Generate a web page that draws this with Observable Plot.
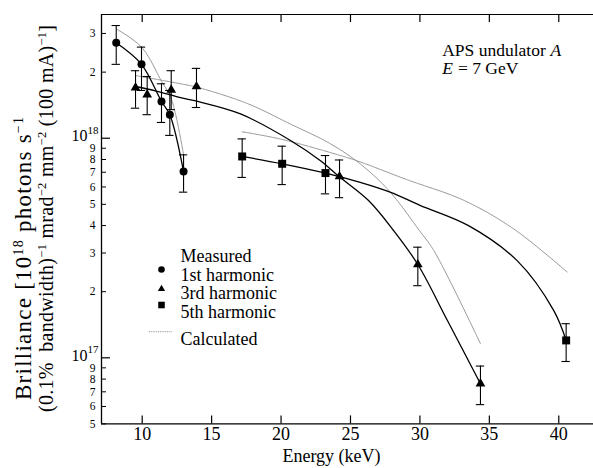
<!DOCTYPE html>
<html><head><meta charset="utf-8">
<script src="https://cdn.jsdelivr.net/npm/d3@7"></script>
<script src="https://cdn.jsdelivr.net/npm/@observablehq/plot@0.6"></script>
<style>
body{margin:0;background:#fff;}
#chart{width:593px;height:468px;}
#chart svg{font-family:"Liberation Serif","Times New Roman",serif;}
</style></head><body><div id="chart"></div>
<script>
// ---- data (energy in keV, brilliance in photons/s/0.1%bw/mrad^2/mm^2/100mA) ----
const h1Energy = [8.13, 9.95, 11.39, 11.99, 12.98];
const h1Value  = [2.72e18, 2.17e18, 1.47e18, 1.28e18, 7.05e17];
const h1Low    = [2.17e18, 1.65e18, 1.18e18, 1.03e18, 5.68e17];
const h1High   = [3.26e18, 2.60e18, 1.77e18, 1.65e18, 8.40e17];

const h3Energy = [9.52, 10.36, 12.09, 13.91, 24.21, 29.85, 34.36];
const h3Value  = [1.70e18, 1.58e18, 1.66e18, 1.72e18, 6.69e17, 2.66e17, 7.62e16];
const h3Low    = [1.37e18, 1.28e18, 1.35e18, 1.38e18, 5.36e17, 2.13e17, 6.12e16];
const h3High   = [2.03e18, 1.91e18, 2.03e18, 2.08e18, 7.96e17, 3.19e17, 9.17e16];

const h5Energy = [17.2, 20.08, 23.2, 40.53];
const h5Value  = [8.26e17, 7.65e17, 6.94e17, 1.20e17];
const h5Low    = [6.63e17, 6.15e17, 5.58e17, 9.62e16];
const h5High   = [9.93e17, 9.20e17, 8.34e17, 1.43e17];

const fit1Energy = [8.13, 9.95, 11.39, 11.99, 12.98];
const fit1Value  = [2.72e18, 2.17e18, 1.47e18, 1.28e18, 7.05e17];
const fit3Energy = [9.52, 11.0, 12.76, 14.0, 17.08, 20.68, 22.84, 24.2, 26.3, 28.1, 29.85, 32.0, 34.36];
const fit3Value  = [1.72e18, 1.64e18, 1.53e18, 1.47e18, 1.29e18, 9.77e17, 7.9e17, 6.67e17, 5.2e17, 3.8e17, 2.66e17, 1.47e17, 7.62e16];
const fit5Energy = [17.2, 20.08, 23.2, 25.7, 27.9, 30.0, 33.5, 37.0, 39.64, 40.53];
const fit5Value  = [8.26e17, 7.65e17, 6.94e17, 6.3e17, 5.67e17, 4.95e17, 4.0e17, 2.77e17, 1.64e17, 1.2e17];

const calc1Energy = [8.13, 9.95, 11.39, 12.1, 12.98];
const calc1Value  = [3.15e18, 2.6e18, 1.82e18, 1.51e18, 8.4e17];
const calc3Energy = [9.52, 12.76, 13.91, 17.56, 20.68, 23.56, 25.7, 27.76, 29.96, 31.0, 34.36];
const calc3Value  = [1.93e18, 1.77e18, 1.71e18, 1.44e18, 1.16e18, 9.43e17, 7.64e17, 5.78e17, 3.8e17, 3.08e17, 1.16e17];
const calc5Energy = [17.2, 20.0, 24.28, 25.7, 29.0, 33.2, 36.76, 40.6];
const calc5Value  = [1.07e18, 9.9e17, 8.34e17, 7.8e17, 6.5e17, 5.2e17, 3.86e17, 2.46e17];

const xTicks = [10, 15, 20, 25, 30, 35, 40];
const yMajor = [1e17, 1e18];
const yMajorExp = ["17", "18"];
const yMinor = [5e16, 6e16, 7e16, 8e16, 9e16, 2e17, 3e17, 4e17, 5e17, 6e17, 7e17, 8e17, 9e17, 2e18, 3e18];
const yMinorLabels = ["5","6","7","8","9","2","3","4","5","6","7","8","9","2","3"];

const legendTitle = "Measured";
const legendLabels = ["1st harmonic", "3rd harmonic", "5th harmonic"];
const legendSymbols = ["circle", "triangle", "square"];
const legendCalc = "Calculated";

// ---- layout ----
const W = 593, H = 468;
const mL = 101, mT = 14, mB = 44.6, mR = 0;
const plotW = W - mL - mR, plotH = H - mT - mB;
const xDomain = [7.07, 42.5];
const yDomain = [5e16, 3.66e18];
const FONT = '"Liberation Serif","Times New Roman",serif';

const rows = (x, y, lo, hi) => x.map((e, i) => ({x: e, y: y[i], lo: lo ? lo[i] : null, hi: hi ? hi[i] : null}));
const h1 = rows(h1Energy, h1Value, h1Low, h1High);
const h3 = rows(h3Energy, h3Value, h3Low, h3High);
const h5 = rows(h5Energy, h5Value, h5Low, h5High);
const measured = [...h1, ...h3, ...h5];
const capHalf = 0.3;

const calcStyle = {x: "x", y: "y", stroke: "#8a8a8a", strokeWidth: 0.9, strokeDasharray: "1.6,0.8", curve: "catmull-rom"};
const fitStyle = {x: "x", y: "y", stroke: "#000", strokeWidth: 1.3, curve: "catmull-rom"};
const F = 18;
const legendRowsDy = [253.5, 272.2, 291];
const legendSymDy = [255, 274.5, 290.5];
const legendSymR = [3.3, 2.7, 3.7];

const txt = (s, o) => Plot.text([s], {frameAnchor: "top-left", text: d => d, textAnchor: "start", fontSize: F, fill: "#000", fontFamily: FONT, ...o});

const chart = Plot.plot({
  width: W, height: H,
  marginLeft: mL, marginTop: mT, marginBottom: mB, marginRight: mR,
  style: {fontFamily: FONT, background: "#fff", overflow: "visible"},
  x: {type: "linear", domain: xDomain, axis: null},
  y: {type: "log", domain: yDomain, axis: null},
  marks: [
    // frame lines
    Plot.ruleY([yDomain[0]], {stroke: "#000", strokeWidth: 1.3}),
    Plot.ruleY([yDomain[1]], {stroke: "#000", strokeWidth: 1.2}),
    Plot.ruleX([xDomain[0]], {stroke: "#000", strokeWidth: 1.3}),
    // inward ticks
    Plot.tickX(xTicks, {x: d => d, insetTop: plotH - 8, stroke: "#000", strokeWidth: 1.2}),
    Plot.tickX(xTicks, {x: d => d, insetBottom: plotH - 8, stroke: "#000", strokeWidth: 1.2}),
    Plot.tickY(yMajor, {y: d => d, insetRight: plotW - 9, stroke: "#000", strokeWidth: 1.2}),
    Plot.tickY(yMinor, {y: d => d, insetRight: plotW - 5, stroke: "#000", strokeWidth: 1}),
    // tick labels
    Plot.text(xTicks, {x: d => d, frameAnchor: "bottom", dy: 16, text: d => String(d), fontSize: F, fill: "#000", fontFamily: FONT}),
    Plot.text(yMinor, {y: d => d, frameAnchor: "left", dx: -6, textAnchor: "end", text: (d, i) => yMinorLabels[i], fontSize: 11.5, fill: "#000", fontFamily: FONT}),
    Plot.text(yMajor, {y: d => d, frameAnchor: "left", dx: -14, dy: -2, textAnchor: "end", text: () => "10", fontSize: 16, fill: "#000", fontFamily: FONT}),
    Plot.text(yMajor, {y: d => d, frameAnchor: "left", dx: -3, dy: -8, textAnchor: "end", text: (d, i) => yMajorExp[i], fontSize: 11, fill: "#000", fontFamily: FONT}),
    // calculated curves
    Plot.line(rows(calc1Energy, calc1Value), calcStyle),
    Plot.line(rows(calc3Energy, calc3Value), calcStyle),
    Plot.line(rows(calc5Energy, calc5Value), calcStyle),
    // fitted curves
    Plot.line(rows(fit1Energy, fit1Value), fitStyle),
    Plot.line(rows(fit3Energy, fit3Value), fitStyle),
    Plot.line(rows(fit5Energy, fit5Value), fitStyle),
    // error bars
    Plot.ruleX(measured, {x: "x", y1: "lo", y2: "hi", stroke: "#000", strokeWidth: 1.1}),
    Plot.ruleY(measured, {y: "hi", x1: d => d.x - capHalf, x2: d => d.x + capHalf, stroke: "#000", strokeWidth: 1.1}),
    Plot.ruleY(measured, {y: "lo", x1: d => d.x - capHalf, x2: d => d.x + capHalf, stroke: "#000", strokeWidth: 1.1}),
    // points
    Plot.dot(h1, {x: "x", y: "y", symbol: "circle", r: 4, fill: "#000", stroke: "none"}),
    Plot.dot(h3, {x: "x", y: "y", symbol: "triangle", r: 3.6, fill: "#000", stroke: "none"}),
    Plot.dot(h5, {x: "x", y: "y", symbol: "square", r: 4.5, fill: "#000", stroke: "none"}),
    // legend
    txt(legendTitle, {dx: 79, dy: 235}),
    ...legendLabels.map((s, i) => txt(s, {dx: 79, dy: legendRowsDy[i]})),
    ...legendSymbols.map((s, i) => Plot.dot([s], {frameAnchor: "top-left", dx: 60, dy: legendSymDy[i], symbol: d => d, r: legendSymR[i], fill: "#000", stroke: "none"})),
    txt(legendCalc, {dx: 79, dy: 317.5}),
    // annotation
    txt("APS undulator", {dx: 340.7, dy: 29, fontSize: 17.5}),
    txt("A", {dx: 449, dy: 29, fontSize: 17.5, fontStyle: "italic"}),
    txt("E", {dx: 340.7, dy: 47.5, fontSize: 17.5, fontStyle: "italic"}),
    txt("= 7 GeV", {dx: 356.5, dy: 47.5, fontSize: 17.5}),
    // x axis label
    Plot.text(["Energy (keV)"], {frameAnchor: "bottom-left", dx: 230, dy: 38, text: d => d, textAnchor: "middle", fontSize: F, fill: "#000", fontFamily: FONT})
  ]
});
document.getElementById("chart").appendChild(chart);

const svg = d3.select(chart);
// legend dotted sample for "Calculated"
svg.append("line").attr("x1", 149).attr("x2", 172).attr("y1", 331.7).attr("y2", 331.7)
  .attr("stroke", "#8a8a8a").attr("stroke-width", 0.9).attr("stroke-dasharray", "1,0.8");

// y axis title: two rotated lines with real superscripts
function yTitle(parts, x, y, size, supSize, rise, len) {
  const t = svg.append("text").attr("transform", `translate(${x},${y}) rotate(-90)`)
    .attr("text-anchor", "start").attr("font-size", size).attr("fill", "#000")
    .attr("font-family", FONT).attr("textLength", len).attr("lengthAdjust", "spacing");
  let shift = 0;
  parts.forEach(([s, sup]) => {
    const sp = t.append("tspan").text(s);
    if (sup) { sp.attr("dy", -rise).attr("font-size", supSize); shift = rise; }
    else if (shift) { sp.attr("dy", shift); shift = 0; }
  });
}
yTitle([["Brilliance [10"], ["18", true], [" photons s"], ["\u22121", true]], 31, 400, 23, 14, 8, 283);
yTitle([["(0.1%\u00a0 bandwidth)"], ["\u22121", true], [" mrad"], ["\u22122", true], [" mm"], ["\u22122", true], [" (100 mA)"], ["\u22121", true], ["]"]], 53, 412, 20, 12.5, 7, 387);
</script>
</body></html>
